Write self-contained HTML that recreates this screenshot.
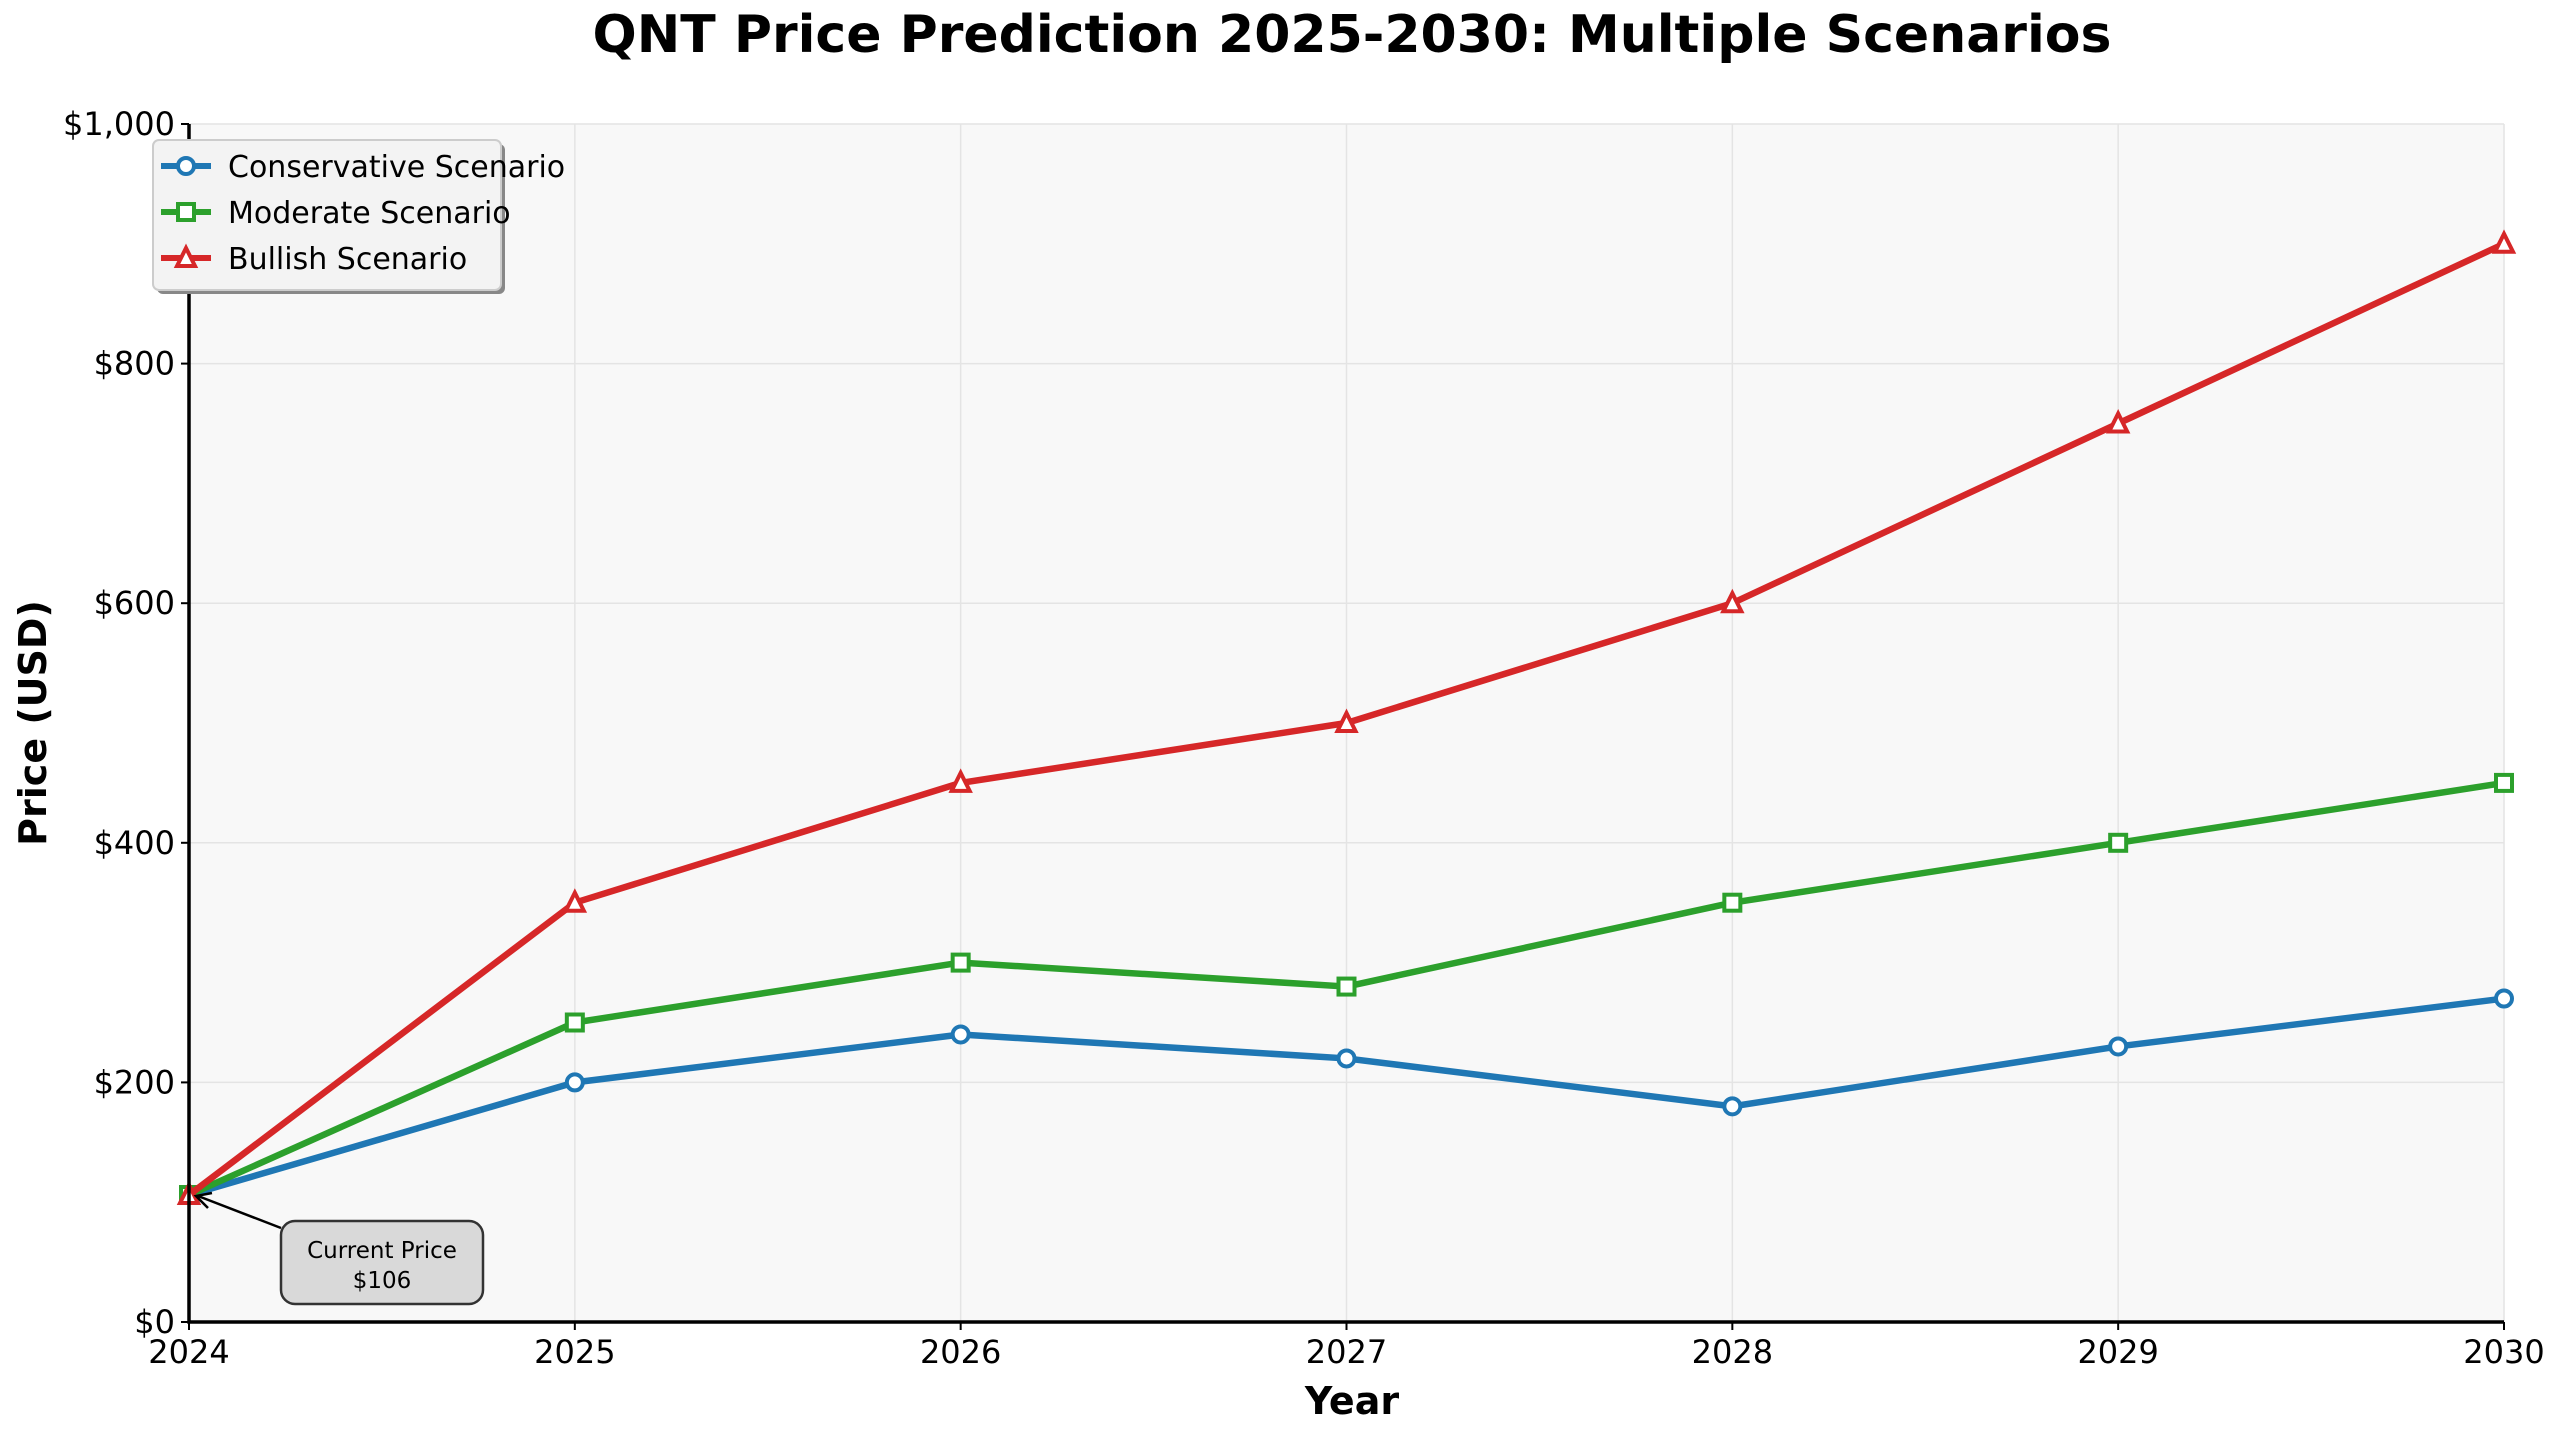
<!DOCTYPE html>
<html><head><meta charset="utf-8"><style>
html,body{margin:0;padding:0;background:#fff;}
svg text{font-family:"DejaVu Sans","Liberation Sans",sans-serif;}
</style></head><body>
<svg id="chart" width="2560" height="1433" viewBox="0 0 2560 1433" xmlns="http://www.w3.org/2000/svg">
<rect width="2560" height="1433" fill="#fff"/>
<text x="1352" y="52" text-anchor="middle" font-size="52" font-weight="bold">QNT Price Prediction 2025-2030: Multiple Scenarios</text>
<rect x="189" y="124" width="2315" height="1198" fill="#f8f8f8"/>
<g id="grid"></g>
<g id="series"></g>
<g id="axes"></g>
<text x="1352" y="1414" text-anchor="middle" font-size="38" font-weight="bold">Year</text>
<text transform="translate(46,723) rotate(-90)" text-anchor="middle" font-size="38" font-weight="bold">Price (USD)</text>
<g>
<line x1="198" y1="1196" x2="281" y2="1228" stroke="#000" stroke-width="2.5"/>
<path d="M212,1193 L196,1196 L208,1208" fill="none" stroke="#000" stroke-width="2.5"/>
<rect x="281" y="1221" width="202" height="83" rx="14" fill="#d9d9d9" stroke="#333" stroke-width="2.5"/>
<text x="382" y="1258" text-anchor="middle" font-size="23">Current Price</text>
<text x="382" y="1288" text-anchor="middle" font-size="23">$106</text>
</g>
<g>
<rect x="157" y="144" width="348" height="150" rx="6" fill="#888"/>
<rect x="153" y="140" width="348" height="150" rx="6" fill="#f3f3f3" stroke="#ccc" stroke-width="2"/>
<g>
<line x1="161" y1="166" x2="211" y2="166" stroke="#1f77b4" stroke-width="6"/><circle cx="186" cy="166" r="8" fill="#fff" stroke="#1f77b4" stroke-width="4"/>
<text x="228" y="177" font-size="30">Conservative Scenario</text></g>
<g>
<line x1="161" y1="212" x2="211" y2="212" stroke="#2ca02c" stroke-width="6"/><rect x="178" y="204" width="16" height="16" fill="#fff" stroke="#2ca02c" stroke-width="4"/>
<text x="228" y="223" font-size="30">Moderate Scenario</text></g>
<g>
<line x1="161" y1="258" x2="211" y2="258" stroke="#d62728" stroke-width="6"/><path d="M186,248 L195,266 L177,266 Z" fill="#fff" stroke="#d62728" stroke-width="4"/>
<text x="228" y="269" font-size="30">Bullish Scenario</text></g>
</g>
</svg>
<script>
const years = [2024, 2025, 2026, 2027, 2028, 2029, 2030];
const conservative = [106, 200, 240, 220, 180, 230, 270];
const moderate = [106, 250, 300, 280, 350, 400, 450];
const bullish = [106, 350, 450, 500, 600, 750, 900];
const yTicks = [0, 200, 400, 600, 800, 1000];
const yTickLabels = ["$0", "$200", "$400", "$600", "$800", "$1,000"];

const NS = "http://www.w3.org/2000/svg";
const X0 = 189, X1 = 2504, Y0 = 1322, Y1 = 124;
function xs(v){ return X0 + (v - 2024) / 6 * (X1 - X0); }
function ys(v){ return Y0 - v / 1000 * (Y0 - Y1); }
function mk(tag, attrs, parent){
  const e = document.createElementNS(NS, tag);
  for (const k in attrs) e.setAttribute(k, attrs[k]);
  parent.appendChild(e); return e;
}
const grid = document.getElementById('grid');
const axes = document.getElementById('axes');
const series = document.getElementById('series');

years.forEach(function(yr){
  const g = mk('line', {x1: xs(yr), x2: xs(yr), y1: Y1, y2: Y0, stroke: '#e4e4e4', 'stroke-width': 1.5}, grid);
  
  
  const t = mk('line', {x1: xs(yr), x2: xs(yr), y1: Y0, y2: Y0 + 8, stroke: '#000', 'stroke-width': 2}, axes);
  
  
  const l = mk('text', {x: xs(yr), y: Y0 + 41, 'text-anchor': 'middle', 'font-size': 32}, axes);
  l.textContent = String(yr);
  
  
});
yTicks.forEach(function(v, i){
  const g = mk('line', {x1: X0, x2: X1, y1: ys(v), y2: ys(v), stroke: '#e4e4e4', 'stroke-width': 1.5}, grid);
  
  
  const t = mk('line', {x1: X0 - 8, x2: X0, y1: ys(v), y2: ys(v), stroke: '#000', 'stroke-width': 2}, axes);
  
  
  const l = mk('text', {x: X0 - 14, y: ys(v) + 11, 'text-anchor': 'end', 'font-size': 32}, axes);
  l.textContent = yTickLabels[i];
  
  
});
const ax = mk('path', {d: 'M' + X0 + ',' + Y1 + ' L' + X0 + ',' + Y0 + ' L' + X1 + ',' + Y0, fill: 'none', stroke: '#000', 'stroke-width': 3.5}, axes);



function drawSeries(vals, color, shape, name){
  const g = mk('g', {}, series);
  
  
  const pts = vals.map(function(v, i){ return xs(years[i]) + ',' + ys(v); }).join(' ');
  const pl = mk('polyline', {points: pts, fill: 'none', stroke: color, 'stroke-width': 6.5, 'stroke-linejoin': 'round'}, g);
  
  
  vals.forEach(function(v, i){
    const x = xs(years[i]), y = ys(v);
    let m;
    if (shape === 'circle') m = mk('circle', {cx: x, cy: y, r: 8, fill: '#fff', stroke: color, 'stroke-width': 4}, g);
    else if (shape === 'square') m = mk('rect', {x: x - 8, y: y - 8, width: 16, height: 16, fill: '#fff', stroke: color, 'stroke-width': 4}, g);
    else m = mk('path', {d: 'M' + x + ',' + (y - 10) + ' L' + (x + 9) + ',' + (y + 8) + ' L' + (x - 9) + ',' + (y + 8) + ' Z', fill: '#fff', stroke: color, 'stroke-width': 4}, g);
    
    
  });
}
drawSeries(conservative, '#1f77b4', 'circle', 'conservative-series');
drawSeries(moderate, '#2ca02c', 'square', 'moderate-series');
drawSeries(bullish, '#d62728', 'triangle', 'bullish-series');
</script>
</body></html>
